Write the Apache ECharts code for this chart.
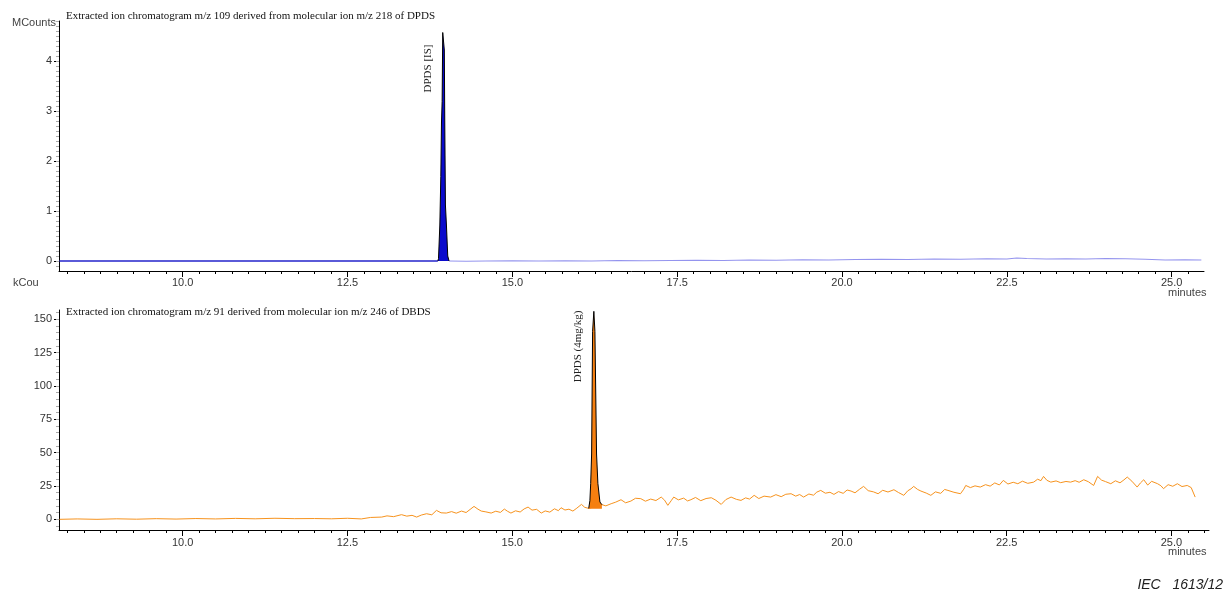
<!DOCTYPE html>
<html>
<head>
<meta charset="utf-8">
<script src="https://cdn.jsdelivr.net/npm/echarts@6/dist/echarts.min.js"></script>
<style>
  html, body { margin: 0; padding: 0; background: #fff; }
  #chart { width: 1227px; height: 593px; }
</style>
</head>
<body>
<div id="chart"></div>
<script>
// tick labels
const timeTicks = [10, 12.5, 15, 17.5, 20, 22.5, 25];
const topTicks = [0, 1, 2, 3, 4];
const bottomTicks = [0, 25, 50, 75, 100, 125, 150];

// top trace, m/z 109 (MCounts)
const topBase = [[8.13, 0], [9, 0], [10, 0], [11, 0], [12, 0], [13, 0], [13.87, 0]];
const topPeak = [[13.87, 0], [13.88, 0.05], [13.9, 0.72], [13.915, 1.69], [13.925, 2.76], [13.935, 3.19],
  [13.944, 4.57], [13.968, 4.22], [13.975, 2.76], [13.985, 1.12], [14.0, 0.72], [14.02, 0.1], [14.04, 0]];
const topTail = [[14.04, 0], [14.3, -0.005], [14.6, 0.0], [15.0, 0.005], [15.4, 0.0], [15.8, 0.005],
  [16.2, 0.0], [16.6, 0.01], [17.0, 0.005], [17.4, 0.01], [17.8, 0.015], [18.2, 0.01], [18.6, 0.02],
  [19.0, 0.015], [19.4, 0.025], [19.8, 0.02], [20.2, 0.03], [20.6, 0.035], [21.0, 0.03], [21.4, 0.04],
  [21.8, 0.035], [22.2, 0.045], [22.5, 0.04], [22.65, 0.06], [22.8, 0.05], [23.1, 0.04], [23.4, 0.045],
  [23.7, 0.04], [24.0, 0.05], [24.3, 0.045], [24.6, 0.035], [24.9, 0.02], [25.2, 0.025], [25.45, 0.02]];

// bottom trace, m/z 91 (kCounts)
const bottomTrace = [[8.13, 0], [8.4, 0.3], [8.7, 0], [9.0, 0.4], [9.3, 0.1], [9.6, 0.5], [9.9, 0.2],
  [10.2, 0.6], [10.5, 0.3], [10.8, 0.7], [11.1, 0.4], [11.4, 0.8], [11.7, 0.5], [12.0, 0.6], [12.26, 0.4],
  [12.5, 0.8], [12.71, 0.3], [12.85, 1.4], [13.02, 1.7], [13.1, 2.6], [13.2, 2.0], [13.32, 3.5], [13.4, 2.4],
  [13.48, 3.0], [13.55, 1.7], [13.62, 3.2], [13.7, 4.2], [13.78, 3.4], [13.85, 6.7], [13.92, 4.9], [14.0, 4.7],
  [14.08, 5.8], [14.15, 4.6], [14.23, 6.2], [14.3, 5.1], [14.36, 7.4], [14.42, 9.7], [14.48, 7.6], [14.53, 6.2],
  [14.6, 5.6], [14.68, 4.7], [14.75, 6.1], [14.82, 5.2], [14.88, 7.7], [14.93, 6.0], [14.98, 4.7], [15.05, 6.4],
  [15.12, 5.5], [15.18, 7.8], [15.24, 9.2], [15.3, 6.9], [15.37, 7.5], [15.44, 4.7], [15.5, 6.3], [15.57, 5.4],
  [15.64, 7.9], [15.7, 6.5], [15.74, 8.7], [15.8, 7.0], [15.86, 7.6], [15.92, 6.2], [15.98, 8.4], [16.05, 11.2],
  [16.1, 9.0], [16.16, 8.2], [16.36, 11], [16.42, 10.1], [16.5, 11.7], [16.57, 12.9],
  [16.65, 14.7], [16.72, 12.4], [16.8, 13.7], [16.87, 15.8], [16.95, 15.5], [17.02, 13.6], [17.1, 15.2],
  [17.18, 14.1], [17.26, 16.7], [17.31, 14.4], [17.36, 10.5], [17.41, 13.9], [17.45, 16.7], [17.52, 14.6],
  [17.6, 15.9], [17.66, 13.8], [17.71, 14.7], [17.78, 16.4], [17.86, 14.0], [17.94, 15.6], [18.02, 16.2],
  [18.09, 14.3], [18.17, 11.2], [18.24, 14.8], [18.32, 16.7], [18.4, 15.0], [18.47, 14.2], [18.54, 16.1],
  [18.6, 15.2], [18.67, 18], [18.74, 15.6], [18.82, 17.4], [18.92, 16.7], [19.0, 18.5], [19.08, 17.0],
  [19.15, 18.8], [19.23, 19.2], [19.3, 17.4], [19.36, 18.6], [19.42, 16.7], [19.5, 19.0], [19.57, 18.1],
  [19.62, 20.4], [19.68, 21.7], [19.75, 19.6], [19.82, 20.3], [19.88, 18.7], [19.95, 20.8], [20.02, 19.5],
  [20.08, 22.0], [20.14, 21.2], [20.2, 19.9], [20.27, 22.6], [20.33, 24.7], [20.4, 21.5], [20.48, 20.6],
  [20.55, 19.2], [20.62, 21.8], [20.7, 20.5], [20.79, 22.2], [20.86, 20.1], [20.94, 18], [21.0, 21.4],
  [21.05, 22.9], [21.09, 24.7], [21.15, 22.4], [21.2, 21.2], [21.28, 19.7], [21.35, 18], [21.42, 20.6],
  [21.5, 19.5], [21.56, 22.4], [21.61, 21.7], [21.7, 20.3], [21.8, 19.2], [21.85, 22.6], [21.88, 25.4],
  [21.95, 23.8], [22.02, 25.1], [22.1, 24.2], [22.18, 26.0], [22.25, 24.9], [22.32, 27.3], [22.39, 25.8],
  [22.45, 29.2], [22.52, 26.5], [22.6, 27.8], [22.67, 26.7], [22.74, 28.6], [22.82, 27.0], [22.91, 27.9],
  [22.97, 30.1], [23.02, 29.0], [23.06, 32.2], [23.11, 29.3], [23.17, 27.9], [23.25, 28.8], [23.32, 27.5],
  [23.4, 28.4], [23.47, 27.9], [23.54, 29.0], [23.6, 27.8], [23.67, 29.7], [23.74, 28.2], [23.82, 25.4],
  [23.88, 32.2], [23.94, 29.4], [24.0, 28.3], [24.08, 26.7], [24.15, 28.9], [24.22, 27.4], [24.28, 29.6],
  [24.33, 31.7], [24.4, 28.6], [24.48, 24.2], [24.53, 27.3], [24.58, 29.7], [24.64, 25.7], [24.7, 28.5],
  [24.79, 26.7], [24.84, 25.2], [24.88, 23], [24.95, 26.0], [25.02, 24.8], [25.09, 26.7], [25.16, 24.6],
  [25.24, 25.4], [25.3, 23.8], [25.33, 23], [25.36, 16.7]];
const bottomPeak = [[16.16, 8.2], [16.178, 14], [16.19, 27], [16.204, 49], [16.219, 141], [16.238, 156],
  [16.254, 141], [16.279, 49], [16.299, 27], [16.33, 13], [16.36, 11]];

const minorTime = [];
for (let t = 8.25; t < 25.6; t += 0.25) minorTime.push(+t.toFixed(2));
const minorTop = [];
for (let v = -0.1; v < 4.8; v += 0.1) minorTop.push(+v.toFixed(1));
const minorBottom = [];
for (let v = -5; v < 157; v += 5) minorBottom.push(v);

const sans = 'Liberation Sans';
const serif = 'Liberation Serif';

function timeAxis(grid, max, margin) {
  return [{
    type: 'value', gridIndex: grid, min: 8.124, max: max, position: 'bottom',
    axisLine: { onZero: false, lineStyle: { color: '#000', width: 1 } },
    axisTick: { customValues: timeTicks, length: 6, lineStyle: { color: '#000' } },
    axisLabel: { customValues: timeTicks, formatter: v => v.toFixed(1), color: '#333',
      fontFamily: sans, fontSize: 11, margin: margin },
    splitLine: { show: false },
  }, {
    type: 'value', gridIndex: grid, min: 8.124, max: max, position: 'bottom',
    axisLine: { show: false, onZero: false },
    axisTick: { customValues: minorTime, length: 3, lineStyle: { color: '#000' } },
    axisLabel: { show: false },
    splitLine: { show: false },
  }];
}

function countAxis(grid, min, max, ticks, minor) {
  return [{
    type: 'value', gridIndex: grid, min: min, max: max, position: 'left',
    axisLine: { show: true, onZero: false, lineStyle: { color: '#000', width: 1 } },
    axisTick: { show: true, customValues: ticks, length: 5, lineStyle: { color: '#000' } },
    axisLabel: { customValues: ticks, color: '#333', fontFamily: sans, fontSize: 11, margin: 7 },
    splitLine: { show: false },
  }, {
    type: 'value', gridIndex: grid, min: min, max: max, position: 'left',
    axisLine: { show: false, onZero: false },
    axisTick: { show: true, customValues: minor, length: 3, lineStyle: { color: '#aaa' } },
    axisLabel: { show: false },
    splitLine: { show: false },
  }];
}

function peakLabel(coord, text) {
  return {
    symbol: 'rect', symbolSize: 1, itemStyle: { color: 'rgba(0,0,0,0)' },
    label: { show: true, position: 'inside', rotate: 90, formatter: text, color: '#222',
      fontFamily: serif, fontSize: 11 },
    data: [{ coord: coord }],
  };
}

const myChart = echarts.init(document.getElementById('chart'));
const option = {
  animation: false,
  backgroundColor: '#fff',
  grid: [
    { left: 59, top: 21, width: 1145, height: 250 },
    { left: 59, top: 310, width: 1150, height: 220 },
  ],
  xAxis: [...timeAxis(0, 25.49, 6), ...timeAxis(1, 25.57, 7.5)],
  yAxis: [...countAxis(0, -0.2, 4.8, topTicks, minorTop), ...countAxis(1, -8, 157, bottomTicks, minorBottom)],
  series: [
    { type: 'line', xAxisIndex: 0, yAxisIndex: 0, data: topBase, symbol: 'none',
      lineStyle: { color: '#2424cc', width: 1.5 } },
    { type: 'line', xAxisIndex: 0, yAxisIndex: 0, data: topTail, symbol: 'none',
      lineStyle: { color: '#9494ee', width: 1.2 } },
    { type: 'line', xAxisIndex: 0, yAxisIndex: 0, data: topPeak, symbol: 'none', z: 5,
      lineStyle: { color: '#000', width: 1 }, areaStyle: { color: '#0a0acc', opacity: 1, origin: 0 },
      markPoint: peakLabel([13.72, 3.85], 'DPDS [IS]') },
    { type: 'line', xAxisIndex: 2, yAxisIndex: 2, data: bottomTrace, symbol: 'none',
      lineStyle: { color: '#f7931e', width: 1 } },
    { type: 'line', xAxisIndex: 2, yAxisIndex: 2, data: bottomPeak, symbol: 'none', z: 5,
      lineStyle: { color: '#000', width: 1 }, areaStyle: { color: '#f57f10', opacity: 1, origin: 8 },
      markPoint: peakLabel([16.0, 129.7], 'DPDS (4mg/kg)') },
  ],
  graphic: [
    { type: 'text', left: 66, top: 11, style: { text: 'Extracted ion chromatogram m/z 109 derived from molecular ion m/z 218 of DPDS',
      font: '11px "Liberation Serif"', fill: '#111' } },
    { type: 'text', left: 66, top: 307, style: { text: 'Extracted ion chromatogram m/z 91 derived from molecular ion m/z 246 of DBDS',
      font: '11px "Liberation Serif"', fill: '#111' } },
    { type: 'text', right: 1171, top: 17, style: { text: 'MCounts', font: '11px "Liberation Sans"', fill: '#444' } },
    { type: 'text', left: 13, top: 277, style: { text: 'kCou', font: '11px "Liberation Sans"', fill: '#444' } },
    { type: 'text', left: 1168, top: 287, style: { text: 'minutes', font: '11px "Liberation Sans"', fill: '#444' } },
    { type: 'text', left: 1168, top: 546, style: { text: 'minutes', font: '11px "Liberation Sans"', fill: '#444' } },
    { type: 'text', right: 4, top: 578, style: { text: 'IEC   1613/12', font: 'italic 14px "Liberation Sans"', fill: '#222' } },
  ],
};
myChart.setOption(option);
</script>
</body>
</html>
